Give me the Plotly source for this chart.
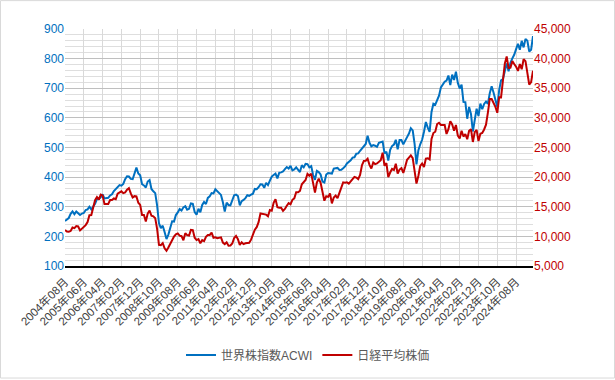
import plotly.graph_objects as go

# month labels 2004-08 .. 2025-05
months = []
y, m = 2004, 8
while (y, m) <= (2025, 5):
    months.append(f"{y}年{m:02d}月")
    m += 1
    if m > 12:
        m = 1
        y += 1

acwi = [
    252, 256, 262, 276, 284,
    275, 284, 278, 272, 277, 279, 289, 291, 300, 291, 301, 310,
    326, 326, 332, 342, 328, 328, 330, 338, 342, 353, 361, 368,
    373, 371, 377, 393, 403, 402, 394, 393, 411, 432, 412, 406,
    376, 372, 365, 385, 390, 360, 352, 346, 305, 244, 228, 236,
    215, 191, 206, 229, 251, 250, 272, 281, 292, 287, 298, 302,
    290, 293, 311, 310, 282, 273, 293, 281, 306, 316, 309, 330,
    335, 346, 345, 359, 352, 346, 340, 315, 284, 314, 306, 305,
    323, 339, 341, 336, 305, 319, 323, 329, 339, 337, 341, 344,
    360, 359, 366, 376, 375, 364, 381, 373, 388, 402, 407, 412,
    396, 415, 416, 419, 427, 434, 429, 438, 423, 426, 433, 424,
    417, 440, 433, 445, 444, 433, 437, 407, 391, 421, 417, 409,
    385, 382, 409, 414, 414, 412, 429, 430, 431, 424, 425, 430,
    436, 446, 451, 457, 466, 467, 479, 480, 489, 498, 507, 512,
    540, 516, 504, 508, 506, 502, 516, 519, 520, 480, 486, 456,
    492, 505, 510, 526, 494, 525, 525, 511, 521, 535, 547, 565,
    558, 512, 443, 490, 511, 526, 553, 586, 567, 553, 620, 648,
    645, 658, 675, 703, 713, 722, 726, 743, 711, 746, 728, 756,
    718, 699, 712, 654, 653, 597, 637, 613, 554, 587, 631, 606,
    648, 629, 647, 655, 647, 683, 707, 686, 657, 637, 694, 727,
    731, 761, 784, 757, 786, 801, 813, 832, 850, 830, 860, 838,
    866, 860, 824, 830, 876,
]

nikkei = [
    11081, 10823, 10771, 10899, 11489,
    11388, 11740, 11668, 11009, 11277, 11584, 11900, 12414, 13574, 13607, 14872, 16111,
    16650, 16205, 17060, 16906, 15467, 15505, 15457, 16141, 16128, 16399, 16274, 17226,
    17383, 17604, 17288, 17400, 17876, 18138, 17249, 16569, 16786, 16738, 15681, 15308,
    13592, 13603, 12526, 13850, 14339, 13481, 13377, 13073, 11260, 8577, 8512, 8860,
    7994, 7568, 8110, 8828, 9523, 9958, 10357, 10493, 10133, 10035, 9346, 10546,
    10198, 10126, 11090, 11057, 9769, 9383, 9537, 8824, 9369, 9202, 9937, 10229,
    10238, 10624, 9755, 9850, 9694, 9816, 9833, 8955, 8700, 8988, 8435, 8455,
    8803, 9723, 10084, 9521, 8543, 9007, 8695, 8840, 8870, 8928, 9446, 10395,
    11139, 11559, 12398, 13861, 13775, 13677, 13668, 13389, 14456, 14328, 15662, 16291,
    14915, 14841, 14828, 14304, 14632, 15162, 15621, 15425, 16174, 16414, 17460, 17451,
    17674, 18798, 19207, 19520, 20563, 20236, 20585, 18890, 17388, 19083, 19747, 19034,
    17518, 16027, 16759, 16666, 17235, 15576, 16569, 16887, 16450, 17425, 18308, 19114,
    19041, 19119, 18909, 19197, 19651, 20033, 19925, 19646, 20356, 22012, 22725, 22765,
    23098, 22068, 21454, 22468, 22202, 22305, 22554, 22865, 24120, 21920, 22351, 20015,
    20773, 21385, 21206, 22259, 20601, 21276, 21522, 20704, 21756, 22927, 23294, 23657,
    23205, 21143, 18917, 20194, 21878, 22288, 21710, 23140, 23185, 22977, 26434, 27444,
    27663, 28966, 29179, 28813, 28860, 28792, 27284, 28090, 29453, 28893, 27822, 28792,
    27002, 26527, 27821, 26848, 27280, 26393, 27802, 28092, 25937, 27587, 27969, 26095,
    27327, 27446, 28041, 28856, 30888, 33189, 33172, 32619, 31858, 30859, 33487, 33464,
    36287, 39166, 40369, 38406, 38488, 39583, 39102, 38648, 37920, 39081, 38208, 39895,
    39572, 37156, 35618, 36045, 37965,
]

tick_labels = months[::10]

FONT = "Liberation Sans, Arial, Noto Sans CJK JP, sans-serif"
BLUE = "#0070C0"
RED = "#C00000"

fig = go.Figure()
fig.add_trace(go.Scatter(x=months, y=acwi, name="世界株指数ACWI", mode="lines",
                         line=dict(color=BLUE, width=2)))
fig.add_trace(go.Scatter(x=months, y=nikkei, name="日経平均株価", mode="lines",
                         line=dict(color=RED, width=2), yaxis="y2"))

L, R, T, B = 65, 82, 29, 113
W, H = 615, 380
pw, ph = W - L - R, H - T - B

fig.update_layout(
    width=W, height=H,
    margin=dict(l=L, r=R, t=T, b=B),
    paper_bgcolor="white", plot_bgcolor="white",
    font=dict(family=FONT, size=12, color="#595959"),
    xaxis=dict(
        type="category", categoryorder="array", categoryarray=months,
        range=[0, len(months) - 1],
        tickmode="array", tickvals=tick_labels, ticktext=tick_labels,
        tickangle=-45, tickfont=dict(size=11.5, color="#404040"),
        ticklabelstandoff=3,
        showgrid=True, gridcolor="#D9D9D9", gridwidth=1,
        showline=True, linecolor="black", linewidth=1.5,
        ticks="", zeroline=False,
    ),
    yaxis=dict(
        range=[100, 900], dtick=100, tick0=100,
        tickfont=dict(size=12, color=BLUE),
        showgrid=True, gridcolor="#BFBFBF", gridwidth=1,
        minor=dict(dtick=20, showgrid=True, gridcolor="#DEDEDE", gridwidth=1),
        zeroline=False, ticks="", showline=False,
    ),
    yaxis2=dict(
        range=[5000, 45000], dtick=5000, tick0=5000,
        overlaying="y", side="right", tickformat=",",
        tickfont=dict(size=12, color=RED),
        showgrid=False, zeroline=False, ticks="", showline=False,
    ),
    legend=dict(
        orientation="h", x=(308 - L) / pw, xanchor="center",
        y=(H - B - 355) / ph, yanchor="middle",
        font=dict(size=12, color="#595959"), itemwidth=30,
        bgcolor="rgba(0,0,0,0)",
    ),
    showlegend=True,
)

# outer chart border
fig.add_shape(type="rect", xref="paper", yref="paper",
              x0=(0.5 - L) / pw, x1=(W - 0.5 - L) / pw,
              y0=(H - B - (H - 0.5)) / ph, y1=(H - B - 0.5) / ph,
              line=dict(color="#D9D9D9", width=1), fillcolor="rgba(0,0,0,0)",
              layer="below")

fig.write_html("out.html")
